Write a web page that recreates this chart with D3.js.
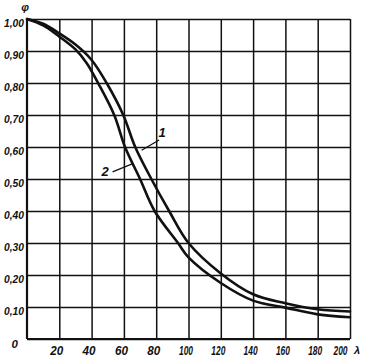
<!DOCTYPE html>
<html>
<head>
<meta charset="utf-8">
<script src="https://cdn.jsdelivr.net/npm/d3@7"></script>
<style>
  html, body { margin: 0; padding: 0; background: #fff; }
  svg text { font-family: "Liberation Sans", Arial, sans-serif; font-style: italic; font-weight: bold; fill: #111; }
</style>
</head>
<body>
<svg id="chart" width="369" height="358"></svg>
<script>
// ---- data ----
const curve1Lambda = [0, 10, 20, 30, 40, 49.3, 59.6, 67, 77, 88, 100, 120, 140, 160, 180, 200];
const curve1Phi    = [1.00, 0.985, 0.955, 0.92, 0.872, 0.80, 0.70, 0.60, 0.50, 0.40, 0.30, 0.205, 0.140, 0.112, 0.093, 0.086];
const curve2Lambda = [0, 10, 20, 30, 37, 44, 54, 60.7, 70, 79, 93.5, 100, 120, 140, 160, 180, 200];
const curve2Phi    = [1.00, 0.98, 0.945, 0.905, 0.862, 0.80, 0.70, 0.60, 0.50, 0.40, 0.30, 0.255, 0.175, 0.120, 0.098, 0.077, 0.068];
const xTicks = [20, 40, 60, 80, 100, 120, 140, 160, 180, 200];
const xTickLabels = ["20", "40", "60", "80", "100", "120", "140", "160", "180", "200"];
const yTicks = [0, 0.1, 0.2, 0.3, 0.4, 0.5, 0.6, 0.7, 0.8, 0.9, 1.0];
const yTickLabels = ["0", "0,10", "0,20", "0,30", "0,40", "0,50", "0,60", "0,70", "0,80", "0,90", "1,00"];
const curveLabels = ["1", "2"];

const svg = d3.select("#chart");
const x = d3.scaleLinear().domain([0, 200]).range([27, 350]);
const y = d3.scaleLinear().domain([0, 1]).range([339, 19]);

// grid via axes
const gx = svg.append("g").attr("transform", `translate(0,${y(0)})`)
  .call(d3.axisBottom(x).tickValues(xTicks).tickSize(-(y(0) - y(1))).tickFormat((d, i) => xTickLabels[i]));
gx.select(".domain").remove();
gx.selectAll(".tick line").attr("stroke", "#111").attr("stroke-width", 1.5);
gx.selectAll(".tick text")
  .attr("font-size", 12).attr("dy", "0").attr("y", 16)
  .attr("dx", d => d === 200 ? -10 : -3)
  .attr("textLength", d => d >= 100 ? 14 : 13)
  .attr("lengthAdjust", "spacingAndGlyphs")
  .attr("fill", "#111");

const gy = svg.append("g").attr("transform", `translate(${x(0)},0)`)
  .call(d3.axisLeft(y).tickValues(yTicks).tickSize(-(x(200) - x(0))).tickFormat((d, i) => yTickLabels[i]));
gy.select(".domain").remove();
gy.selectAll(".tick line").attr("stroke", "#111").attr("stroke-width", 1.5);
gy.selectAll(".tick text")
  .attr("font-size", 11.5).attr("x", -3).attr("dy", "0.62em")
  .attr("textLength", d => d === 0 ? null : 20)
  .attr("lengthAdjust", "spacingAndGlyphs")
  .attr("fill", "#111");
gy.selectAll(".tick").filter(d => d === 0).select("text").attr("x", -9).attr("dy", "0.75em");

// axes lines
svg.append("line").attr("x1", x(0)).attr("x2", x(0)).attr("y1", y(1)).attr("y2", y(0))
  .attr("stroke", "#111").attr("stroke-width", 2.2);
svg.append("line").attr("x1", x(0)).attr("x2", x(200)).attr("y1", y(0)).attr("y2", y(0))
  .attr("stroke", "#111").attr("stroke-width", 2.2);

// axis titles
svg.append("text").attr("x", x(0) - 2).attr("y", 11).attr("text-anchor", "middle").attr("font-size", 11).text("φ");
svg.append("text").attr("x", x(200) + 4).attr("y", 354).attr("font-size", 11).text("λ");

// curves
const line = d3.line().x(d => x(d[0])).y(d => y(d[1])).curve(d3.curveCatmullRom.alpha(0.5));
const c1 = curve1Lambda.map((l, i) => [l, curve1Phi[i]]);
const c2 = curve2Lambda.map((l, i) => [l, curve2Phi[i]]);
[c1, c2].forEach(c => {
  svg.append("path").datum(c).attr("d", line).attr("fill", "none")
    .attr("stroke", "#111").attr("stroke-width", 2.6).attr("stroke-linecap", "round");
});

// curve labels with leader lines
svg.append("line").attr("x1", x(81.8)).attr("y1", y(0.622)).attr("x2", x(71)).attr("y2", y(0.59))
  .attr("stroke", "#111").attr("stroke-width", 1.3);
svg.append("text").attr("x", x(83.6)).attr("y", y(0.632)).attr("text-anchor", "middle").attr("font-size", 13).text(curveLabels[0]);
svg.append("line").attr("x1", x(53)).attr("y1", y(0.522)).attr("x2", x(65.5)).attr("y2", y(0.548))
  .attr("stroke", "#111").attr("stroke-width", 1.3);
svg.append("text").attr("x", x(48.3)).attr("y", y(0.51)).attr("text-anchor", "middle").attr("font-size", 13).text(curveLabels[1]);
</script>
</body>
</html>
